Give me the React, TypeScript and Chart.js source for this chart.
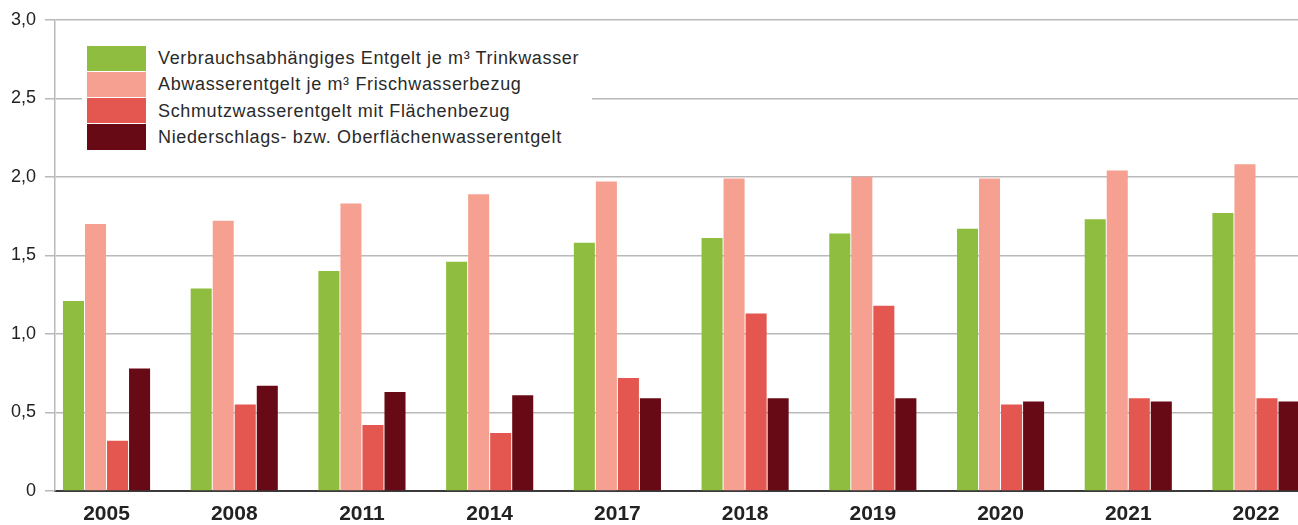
import React, { useEffect, useRef } from "react";
import { Chart, registerables } from "chart.js";

Chart.register(...registerables);

const years = ["2005", "2008", "2011", "2014", "2017", "2018", "2019", "2020", "2021", "2022"];
const seriesLabels = [
  "Verbrauchsabhängiges Entgelt je m³ Trinkwasser",
  "Abwasserentgelt je m³ Frischwasserbezug",
  "Schmutzwasserentgelt mit Flächenbezug",
  "Niederschlags- bzw. Oberflächenwasserentgelt",
];
const seriesColors = ["#8fbd3f", "#f5a091", "#e35750", "#680a15"];
const trinkwasser = [1.21, 1.29, 1.40, 1.46, 1.58, 1.61, 1.64, 1.67, 1.73, 1.77];
const abwasser = [1.70, 1.72, 1.83, 1.89, 1.97, 1.99, 2.00, 1.99, 2.04, 2.08];
const schmutzwasser = [0.32, 0.55, 0.42, 0.37, 0.72, 1.13, 1.18, 0.55, 0.59, 0.59];
const niederschlag = [0.78, 0.67, 0.63, 0.61, 0.59, 0.59, 0.59, 0.57, 0.57, 0.57];
const yTicks = [0, 0.5, 1, 1.5, 2, 2.5, 3];

const seriesValues = [trinkwasser, abwasser, schmutzwasser, niederschlag];
const FONT = "'Liberation Sans', Arial, Helvetica, sans-serif";

export default function App() {
  const ref = useRef<HTMLCanvasElement | null>(null);

  useEffect(() => {
    if (!ref.current) return;
    const chart = new Chart(ref.current, {
      type: "bar",
      data: {
        datasets: seriesValues.map((vals, si) => ({
          label: seriesLabels[si],
          data: vals.map((v, i) => ({ x: i, y: v })),
          backgroundColor: seriesColors[si],
          borderWidth: 0,
          categoryPercentage: 0.69,
          barPercentage: 0.955,
        })),
      },
      options: {
        responsive: false,
        animation: false,
        devicePixelRatio: 1,
        layout: { padding: { top: 19, right: 0, left: 0, bottom: 0 } },
        plugins: { legend: { display: false }, tooltip: { enabled: false } },
        scales: {
          x: {
            type: "linear",
            offset: false,
            min: -0.4034,
            max: 9.329,
            afterBuildTicks: (axis: any) => {
              axis.ticks = years.map((_, i) => ({ value: i }));
            },
            afterFit: (s: any) => {
              s.height = 34;
            },
            grid: { display: false, drawTicks: false, offset: false },
            border: { display: true, color: "#3a3a3a", width: 2 },
            ticks: {
              autoSkip: false,
              maxRotation: 0,
              padding: 11,
              color: "#222",
              font: { family: FONT, size: 21, weight: "bold" },
              callback: (v: any) => years[Math.round(Number(v))] ?? "",
            },
          },
          y: {
            min: 0,
            max: 3,
            afterBuildTicks: (axis: any) => {
              axis.ticks = yTicks.map((v) => ({ value: v }));
            },
            afterFit: (s: any) => {
              s.width = 55;
            },
            grid: { color: "#b9b9b9", lineWidth: 1.5, tickLength: 10, drawTicks: true },
            border: { display: true, color: "#b9b9b9", width: 1.5 },
            ticks: {
              padding: 9,
              color: "#222",
              font: { family: FONT, size: 18 },
              callback: (v: any) => (Number(v) === 0 ? "0" : Number(v).toFixed(1).replace(".", ",")),
            },
          },
        },
      },
    });
    return () => chart.destroy();
  }, []);

  return (
    <div
      style={{
        position: "fixed",
        left: 0,
        top: 0,
        width: 1298,
        height: 525,
        overflow: "hidden",
        background: "#fff",
      }}
    >
      <canvas ref={ref} width={1298} height={525} style={{ width: 1298, height: 525, display: "block" }} />
      <div
        style={{
          position: "absolute",
          left: 82,
          top: 38,
          width: 510,
          height: 119,
          background: "#fff",
          paddingLeft: 5,
          paddingTop: 7,
          boxSizing: "border-box",
        }}
      >
        {seriesLabels.map((lab, i) => (
          <div key={lab} style={{ display: "flex", alignItems: "center", height: 26.3 }}>
            <div style={{ width: 59, height: 25.3, background: seriesColors[i], flex: "none" }} />
            <span
              style={{
                marginLeft: 12,
                fontFamily: FONT,
                fontSize: 18,
                letterSpacing: "0.65px",
                color: "#2a2a2a",
                whiteSpace: "nowrap",
                lineHeight: "20px",
              }}
            >
              {lab}
            </span>
          </div>
        ))}
      </div>
    </div>
  );
}
